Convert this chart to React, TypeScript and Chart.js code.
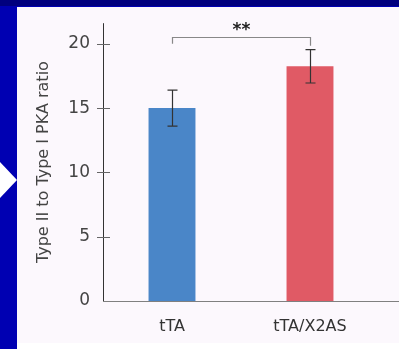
import React, { useEffect, useRef } from 'react';
import { Chart, registerables } from 'chart.js';

Chart.register(...registerables);

const categories = ['tTA', 'tTA/X2AS'];
const ratioValues = [15.0, 18.25];
const ratioErrors = [1.4, 1.3];
const barColors = ['#4A86C8', '#E05A65'];
const yTicks = [0, 5, 10, 15, 20];
const yAxisTitle = 'Type II to Type I PKA ratio';
const significanceLabel = '**';
const bracketLevel = 20.5;
const bracketEnds = [20.0, 19.85];

const FONT = '"DejaVu Sans", sans-serif';

const decorPlugin = {
  id: 'decor',
  beforeDraw(chart: any) {
    const { ctx, width, height } = chart;
    ctx.save();
    ctx.fillStyle = '#0000B2';
    ctx.fillRect(0, 0, width, height);
    ctx.fillStyle = '#00007E';
    ctx.fillRect(0, 0, width, 6);
    ctx.fillStyle = '#FCF8FD';
    ctx.fillRect(17, 7, width - 17, height - 7);
    ctx.fillStyle = '#FFFFFF';
    ctx.fillRect(17, 343, width - 17, height - 343);
    ctx.beginPath();
    ctx.moveTo(0, 162);
    ctx.lineTo(17, 180);
    ctx.lineTo(0, 198);
    ctx.closePath();
    ctx.fill();
    ctx.restore();
  },
  afterDatasetsDraw(chart: any) {
    const { ctx, chartArea } = chart;
    const xs = chart.scales.x;
    const ys = chart.scales.y;
    ctx.save();
    // axes
    ctx.lineWidth = 1;
    ctx.strokeStyle = '#333';
    ctx.beginPath();
    ctx.moveTo(chartArea.left + 0.5, chartArea.top);
    ctx.lineTo(chartArea.left + 0.5, chartArea.bottom);
    ctx.stroke();
    ctx.strokeStyle = '#808080';
    ctx.beginPath();
    ctx.moveTo(chartArea.left, chartArea.bottom + 0.5);
    ctx.lineTo(chart.width, chartArea.bottom + 0.5);
    ctx.stroke();
    // crossing tick marks
    ctx.strokeStyle = '#666';
    yTicks.forEach((v) => {
      if (v === 0) return;
      const y = Math.round(ys.getPixelForValue(v)) + 0.5;
      ctx.beginPath();
      ctx.moveTo(chartArea.left - 6, y);
      ctx.lineTo(chartArea.left + 7, y);
      ctx.stroke();
    });
    // error bars
    ctx.strokeStyle = '#333';
    ctx.lineWidth = 1.2;
    ratioValues.forEach((v, i) => {
      const x = Math.round(xs.getPixelForValue(i)) + 0.5;
      const yt = ys.getPixelForValue(v + ratioErrors[i]);
      const yb = ys.getPixelForValue(v - ratioErrors[i]);
      ctx.beginPath();
      ctx.moveTo(x, yt);
      ctx.lineTo(x, yb);
      ctx.moveTo(x - 5, yt);
      ctx.lineTo(x + 5, yt);
      ctx.moveTo(x - 5, yb);
      ctx.lineTo(x + 5, yb);
      ctx.stroke();
    });
    // significance bracket
    const x0 = Math.round(xs.getPixelForValue(0)) + 0.5;
    const x1 = Math.round(xs.getPixelForValue(1)) + 0.5;
    const yb = Math.round(ys.getPixelForValue(bracketLevel)) + 0.5;
    ctx.strokeStyle = '#888';
    ctx.lineWidth = 1.2;
    ctx.beginPath();
    ctx.moveTo(x0, ys.getPixelForValue(bracketEnds[0]));
    ctx.lineTo(x0, yb);
    ctx.lineTo(x1, yb);
    ctx.lineTo(x1, ys.getPixelForValue(bracketEnds[1]));
    ctx.stroke();
    ctx.fillStyle = '#222';
    ctx.font = `bold 17px ${FONT}`;
    ctx.textAlign = 'center';
    ctx.textBaseline = 'middle';
    ctx.fillText(significanceLabel, (x0 + x1) / 2, yb - 7);
    ctx.restore();
  },
};

export default function App() {
  const canvasRef = useRef<HTMLCanvasElement | null>(null);

  useEffect(() => {
    const canvas = canvasRef.current;
    if (!canvas) return;
    const chart = new Chart(canvas, {
      type: 'bar',
      data: {
        labels: categories,
        datasets: [
          {
            data: ratioValues,
            backgroundColor: barColors,
            borderWidth: 0,
            barPercentage: 0.34,
            categoryPercentage: 1,
          },
        ],
      },
      options: {
        animation: false,
        responsive: false,
        devicePixelRatio: 1,
        layout: { padding: { top: 22, right: 20, left: 0, bottom: 0 } },
        plugins: { legend: { display: false }, tooltip: { enabled: false } },
        scales: {
          x: {
            grid: { display: false, drawTicks: false },
            border: { display: false },
            ticks: { color: '#333', font: { family: FONT, size: 16 }, padding: 16 },
            afterFit: (s: any) => {
              s.height = 48;
            },
          },
          y: {
            min: 0,
            max: 21.6,
            grid: { display: false, drawTicks: false },
            border: { display: false },
            afterBuildTicks: (s: any) => {
              s.ticks = yTicks.map((v) => ({ value: v }));
            },
            ticks: { color: '#444', font: { family: FONT, size: 17 }, padding: 13 },
            title: {
              display: true,
              text: yAxisTitle,
              color: '#444',
              font: { family: FONT, size: 16 },
              padding: { top: 34, bottom: 0 },
            },
            afterFit: (s: any) => {
              s.width = 103;
            },
          },
        },
      },
      plugins: [decorPlugin],
    });
    return () => chart.destroy();
  }, []);

  return (
    <div style={{ position: 'fixed', left: 0, top: 0, width: 399, height: 349 }}>
      <canvas ref={canvasRef} width={399} height={349} style={{ display: 'block' }} />
    </div>
  );
}
